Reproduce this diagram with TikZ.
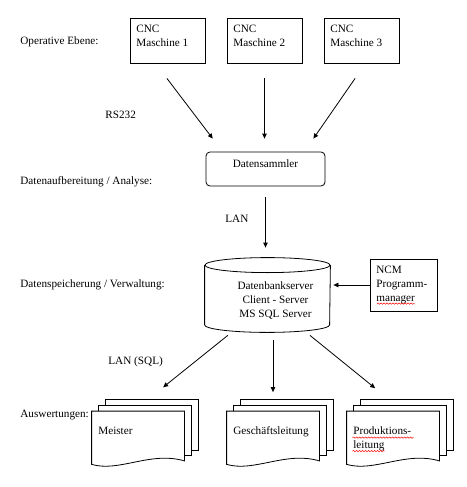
\documentclass[tikz,border=0pt]{standalone}
\usepackage{fontspec}
\setmainfont{Liberation Serif}
\usetikzlibrary{
    arrows.meta,
    calc,
    decorations.pathmorphing
}

\begin{document}
\begin{tikzpicture}[x=1pt, y=-1pt, line width=0.8pt,
    font=\fontsize{11.2}{14}\selectfont,
    >={Triangle[length=5pt, width=4.5pt]},
    box/.style={draw, inner sep=0pt, minimum width=75pt, minimum height=45pt},
    boxtext/.style={anchor=north west, align=left, xshift=3pt, yshift=-4pt},
    sheet/.style={inner sep=0pt, minimum width=92pt, minimum height=52.5pt},
    sheettext/.style={anchor=north west, align=left, xshift=3pt, yshift=-12pt},
    level/.style={anchor=west, inner sep=0pt},
    squiggle/.style={red, line width=0.5pt, decorate,
        decoration={snake, amplitude=0.7pt, segment length=3pt}}]
                        \useasboundingbox (0,0) rectangle (466,487);
                        % Ebenen
                        \node[level] (ops) at (20,42) {Operative Ebene:};
                        \node[level] (aufb) at (20,182) {Datenaufbereitung / Analyse:};
                        \node[level] (speich) at (20,285) {Datenspeicherung / Verwaltung:};
                        \node[level] (ausw) at (20,415) {Auswertungen:};
                        \node[level] (rs) at (105,115) {RS232};
                        \node[level] (lan) at (225,219) {LAN};
                        \node[level] (lansql) at (108,362) {LAN (SQL)};
                        % Maschinen
                        \node[box, label={[boxtext]north west:CNC\\Maschine 1}] (m1) at (167.5,40.5) {};
                        \node[box, label={[boxtext]north west:CNC\\Maschine 2}] (m2) at (264.5,40.5) {};
                        \node[box, label={[boxtext]north west:CNC\\Maschine 3}] (m3) at (361.5,40.5) {};
                        \node[draw, rounded corners=4pt, minimum width=119pt, minimum height=34pt, inner sep=0pt,
                            label={[anchor=north, yshift=-4pt]north:Datensammler}] (ds) at (265.5,169) {};
                        % Datenbank
                        \node[minimum width=125pt, minimum height=74pt, inner sep=0pt,
                            label={[align=center, xshift=8pt, yshift=-5.5pt]center:Datenbankserver\\Client - Server\\MS SQL Server}] (db) at (267.5,295) {};
                        \draw ($(db.north)+(0,7.5)$) ellipse [x radius=62.5pt, y radius=7.5pt];
                        \draw ($(db.north west)+(0,7.5)$) -- ($(db.south west)+(0,-7.5)$)
                            arc [start angle=180, end angle=360, x radius=62.5pt, y radius=7.5pt]
                            -- ($(db.north east)+(0,7.5)$);
                        \node[draw, minimum width=67pt, minimum height=52pt, inner sep=0pt,
                            label={[boxtext]north west:NCM\\Programm-\\manager}] (ncm) at (403.5,285) {};
                        % Auswertungen
                        \node[sheet, label={[sheettext]north west:Meister}] (meister) at (138,437.75) {};
                        \node[sheet, label={[sheettext]north west:Geschäftsleitung}] (gl) at (273,437.75) {};
                        \node[sheet, label={[sheettext]north west:Produktions-\\leitung}] (pl) at (393,437.75) {};
                        \foreach \d in {meister, gl, pl} {
                            \draw (\d.north west) -- (\d.north east) -- ($(\d.south east)+(0,-3.5)$)
                                .. controls +(-34,-10) and +(28,8) .. (\d.south west) -- cycle;
                            \draw ($(\d.south east)+(0,-9)$) -- ++(7,0) -- ($(\d.north east)+(7,-6)$)
                                -- ($(\d.north west)+(7,-6)$) -- ++(0,6);
                            \draw ($(\d.south east)+(7,-14)$) -- ++(7,0) -- ($(\d.north east)+(14,-12)$)
                                -- ($(\d.north west)+(14,-12)$) -- ++(0,6);
                        }
                        % Verbindungen
                        \draw[->, shorten <=18.8pt, shorten >=16.3pt] ($(m1.south)+(-12,0)$) -- ($(ds.north west)+(17,0)$);
                        \draw[->, shorten <=15pt, shorten >=13pt] (m2.south) -- (m2.south |- ds.north);
                        \draw[->, shorten <=18.2pt, shorten >=15.8pt] ($(m3.south)+(4,0)$) -- ($(ds.north east)+(-21,0)$);
                        \draw[->, shorten <=11pt, shorten >=10pt] (ds.south) -- (ds.south |- db.north);
                        \draw[->, shorten >=3pt] (ncm.west) -- (ncm.west -| db.east);
                        \draw[->, shorten <=4.7pt, shorten >=38pt] ($(db.south)+(-36,0)$) -- ($(meister.north)+(-4.5,0)$);
                        \draw[->, shorten <=8pt, shorten >=19pt] (gl.north |- db.south) -- (gl.north);
                        \draw[->, shorten <=4.7pt, shorten >=36.4pt] ($(db.south)+(38.8,0)$) -- ($(pl.north)+(10.4,0)$);
                        % Rechtschreibung
                        \draw[squiggle] ($(ncm.north west)+(7.5,45)$) -- ($(ncm.north west)+(45,45)$);
                        \draw[squiggle] ($(pl.north west)+(6,26.5)$) -- ($(pl.north west)+(67,26.5)$);
                        \draw[squiggle] ($(pl.north west)+(6,40)$) -- ($(pl.north west)+(38,40)$);
                    \end{tikzpicture}
\end{document}
